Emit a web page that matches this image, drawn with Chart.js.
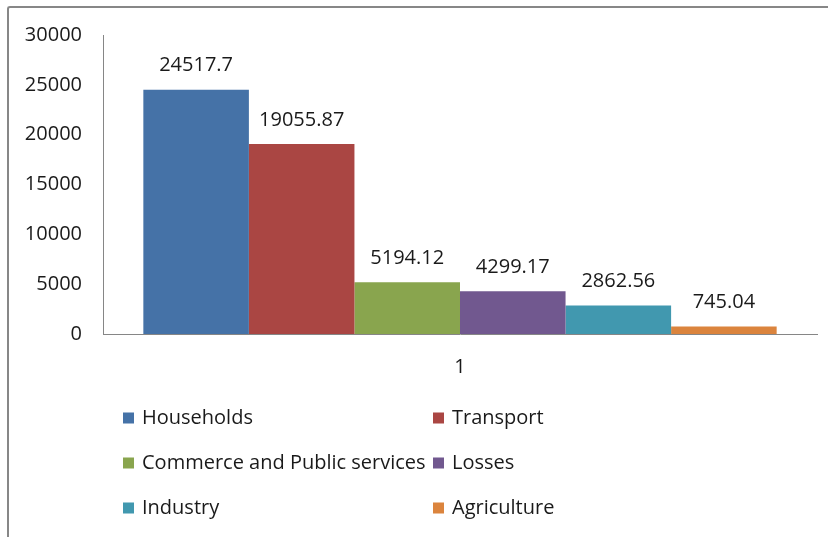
<!DOCTYPE html>
<html>
<head>
<meta charset="utf-8">
<script src="https://cdn.jsdelivr.net/npm/chart.js@4.4.1/dist/chart.umd.min.js"></script>
<style>
  html, body { margin: 0; padding: 0; background: #ffffff; }
  #wrap { position: relative; width: 828px; height: 537px; overflow: hidden; }
  #frame { position: absolute; left: 7px; top: 6px; width: 900px; height: 600px;
           border-left: 2px solid #878787; border-top: 2px solid #878787; border-top-left-radius: 3px; }
  canvas { position: absolute; left: 0; top: 0; }
</style>
</head>
<body>
<div id="wrap">
  <div id="frame"></div>
  <canvas id="c" width="828" height="537"></canvas>
</div>
<script>
const categories = ["1"];
const seriesNames = ["Households", "Transport", "Commerce and Public services", "Losses", "Industry", "Agriculture"];
const seriesValues = [24517.7, 19055.87, 5194.12, 4299.17, 2862.56, 745.04];
const seriesColors = ["#4572A7", "#AA4643", "#89A54E", "#71588F", "#4198AF", "#DB843D"];
const yTicks = [0, 5000, 10000, 15000, 20000, 25000, 30000];

const FONT = "'Open Sans', 'Noto Sans', sans-serif";
const FSIZE = 20;
const TEXT = "#1a1a1a";

const datasets = seriesNames.map((name, i) => ({
  label: name,
  data: [seriesValues[i]],
  backgroundColor: seriesColors[i],
  borderWidth: 0,
  barPercentage: 1.0,
  categoryPercentage: 0.887
}));

const valueLabels = {
  id: 'valueLabels',
  afterDatasetsDraw(chart) {
    const ctx = chart.ctx;
    ctx.save();
    ctx.font = FSIZE + "px " + FONT;
    ctx.fillStyle = TEXT;
    ctx.textAlign = 'center';
    ctx.textBaseline = 'middle';
    chart.data.datasets.forEach((ds, i) => {
      const meta = chart.getDatasetMeta(i);
      meta.data.forEach((bar, j) => {
        ctx.fillText(String(ds.data[j]), bar.x, bar.y - 24);
      });
    });
    ctx.restore();
  }
};

const gridLegend = {
  id: 'gridLegend',
  afterDraw(chart, args, opts) {
    const ctx = chart.ctx;
    ctx.save();
    ctx.font = FSIZE + "px " + FONT;
    ctx.textAlign = 'left';
    ctx.textBaseline = 'middle';
    chart.data.datasets.forEach((ds, i) => {
      const col = i % 2, row = Math.floor(i / 2);
      const x = opts.colX[col], y = opts.rowY[row];
      ctx.fillStyle = ds.backgroundColor;
      ctx.fillRect(x, y - 5.5, 11, 11);
      ctx.fillStyle = TEXT;
      ctx.fillText(ds.label, x + 19, y);
    });
    ctx.restore();
  }
};

new Chart(document.getElementById('c'), {
  type: 'bar',
  data: { labels: categories, datasets },
  options: {
    responsive: false,
    animation: false,
    layout: { padding: { left: 0, top: 35, right: 11, bottom: 0 } },
    plugins: {
      legend: { display: false },
      tooltip: { enabled: false },
      gridLegend: { colX: [123, 433], rowY: [418, 463, 508] }
    },
    scales: {
      x: {
        grid: { display: false, drawTicks: false },
        border: { display: true, color: '#868686', width: 1 },
        ticks: { font: { family: FONT, size: FSIZE }, color: TEXT, padding: 21 },
        afterFit(s) { s.height = 537 - 334; }
      },
      y: {
        min: 0, max: 30000,
        afterBuildTicks(s) { s.ticks = yTicks.map(v => ({ value: v })); },
        grid: { display: false, drawTicks: false },
        border: { display: true, color: '#868686', width: 1 },
        ticks: { font: { family: FONT, size: FSIZE }, color: TEXT, padding: 21,
                 callback: (v) => String(v) },
        afterFit(s) { s.width = 103; }
      }
    }
  },
  plugins: [valueLabels, gridLegend]
});
</script>
</body>
</html>
